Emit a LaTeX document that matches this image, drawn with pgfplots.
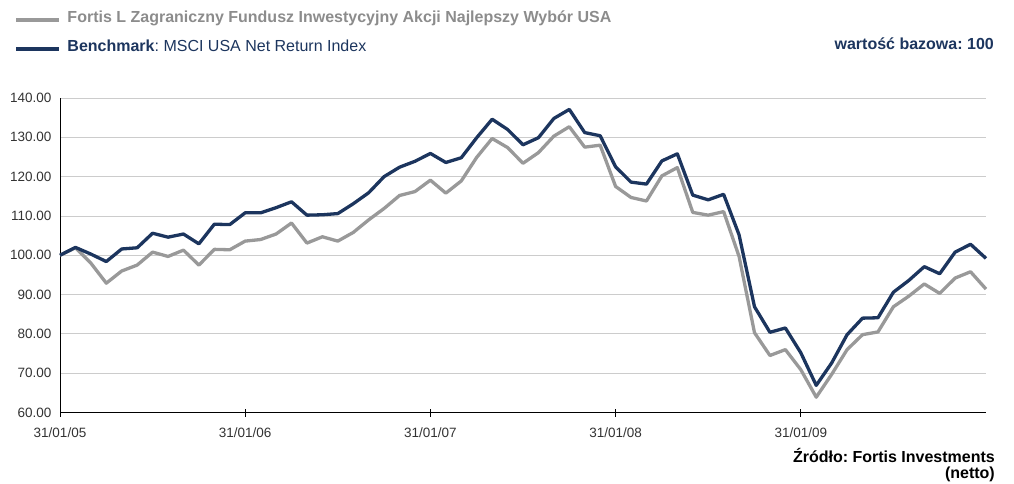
\documentclass[border=0pt]{standalone}
\usepackage{fontspec}
\setmainfont{Liberation Sans}
\usepackage{pgfplots}
\pgfplotsset{compat=1.18}
\definecolor{navy}{HTML}{1C355E}
\definecolor{fundgray}{HTML}{999999}
\definecolor{fundtext}{HTML}{8C8C8C}
\definecolor{gridgray}{HTML}{CCCCCC}
\definecolor{ticktext}{HTML}{333333}
\frenchspacing
\begin{document}
\begin{tikzpicture}
\path[use as bounding box] (0pt,0pt) rectangle (1014pt,483pt);
\begin{axis}[
  at={(60pt,70.5pt)}, anchor=south west,
  scale only axis, width=926pt, height=314.5pt,
  xmin=0, xmax=60, ymin=60, ymax=140,
  axis x line=bottom, axis y line=left,
  axis line style={black, line width=0.8pt, -},
  xtick={0,12,24,36,48},
  xticklabels={31/01/05,31/01/06,31/01/07,31/01/08,31/01/09},
  ytick={60,70,...,140},
  ymajorgrids, grid style={gridgray, line width=0.8pt},
  tick align=center, major tick length=8pt,
  ytick style={draw=none},
  xtick style={black, line width=0.8pt},
  tick label style={font=\fontsize{13.5}{15}\selectfont, text=ticktext},
  yticklabel style={xshift=-1pt},
  xticklabel style={yshift=-8pt},
  /pgf/number format/.cd, fixed, fixed zerofill, precision=2, assume math mode=true,
  /pgfplots/.cd,
  clip=false,
  legend style={at={(rel axis cs:-0.0497,1.283)}, anchor=north west, draw=none, fill=none,
    inner sep=0pt, row sep=11.3pt, font=\fontsize{16}{18}\selectfont, cells={anchor=west},
    /tikz/every odd column/.append style={column sep=4pt}},
  legend cell align=left,
  legend image code/.code={\draw[#1, line width=4.3pt, line cap=butt] (0pt,-2.5pt) -- (43pt,-2.5pt);},
]
\addplot[fundgray, line width=3.3pt, line join=round] coordinates {
(0,100) (1,101.9) (2,98.0) (3,92.9) (4,96.0) (5,97.5) (6,100.8) (7,99.7) (8,101.3) (9,97.5)
(10,101.5) (11,101.4) (12,103.6) (13,104.0) (14,105.4) (15,108.2) (16,103.1) (17,104.7) (18,103.6) (19,105.8)
(20,109.0) (21,111.9) (22,115.2) (23,116.2) (24,119.1) (25,115.8) (26,118.9) (27,124.9) (28,129.7) (29,127.4)
(30,123.4) (31,126.1) (32,130.3) (33,132.7) (34,127.5) (35,128.0) (36,117.5) (37,114.7) (38,113.8) (39,120.2)
(40,122.3) (41,110.9) (42,110.2) (43,111.1) (44,99.7) (45,80.3) (46,74.5) (47,76.0) (48,70.9) (49,63.9)
(50,69.7) (51,76.0) (52,79.8) (53,80.5) (54,86.9) (55,89.6) (56,92.7) (57,90.3) (58,94.2) (59,95.8) (60,91.4)
};
\addlegendentry{\textcolor{fundtext}{\textbf{Fortis L Zagraniczny Fundusz Inwestycyjny Akcji Najlepszy Wybór USA}}}
\addplot[navy, line width=3.3pt, line join=round] coordinates {
(0,100) (1,102.0) (2,100.3) (3,98.4) (4,101.6) (5,101.9) (6,105.6) (7,104.6) (8,105.4) (9,102.9)
(10,107.9) (11,107.8) (12,110.8) (13,110.8) (14,112.1) (15,113.6) (16,110.2) (17,110.3) (18,110.6) (19,113.1)
(20,115.9) (21,120.0) (22,122.4) (23,123.9) (24,125.9) (25,123.6) (26,124.8) (27,129.9) (28,134.6) (29,132.0)
(30,128.1) (31,129.9) (32,134.8) (33,137.1) (34,131.2) (35,130.4) (36,122.5) (37,118.6) (38,118.1) (39,124.0)
(40,125.8) (41,115.3) (42,114.1) (43,115.5) (44,105.2) (45,86.9) (46,80.4) (47,81.5) (48,75.2) (49,66.9)
(50,72.6) (51,79.8) (52,84.0) (53,84.1) (54,90.6) (55,93.6) (56,97.1) (57,95.3) (58,100.8) (59,102.8) (60,99.2)
};
\addlegendentry{\textcolor{navy}{\textbf{Benchmark}: MSCI USA Net Return Index}}
\end{axis}
\node[anchor=base east, inner sep=0pt, text=navy, font=\fontsize{16}{18}\selectfont\bfseries] at (994pt,433pt) {wartość bazowa: 100};
\node[anchor=base east, inner sep=0pt, font=\fontsize{16}{18}\selectfont\bfseries] at (995pt,21pt) {Źródło: Fortis Investments};
\node[anchor=base east, inner sep=0pt, font=\fontsize{16}{18}\selectfont\bfseries] at (995pt,5pt) {(netto)};
\end{tikzpicture}
\end{document}
